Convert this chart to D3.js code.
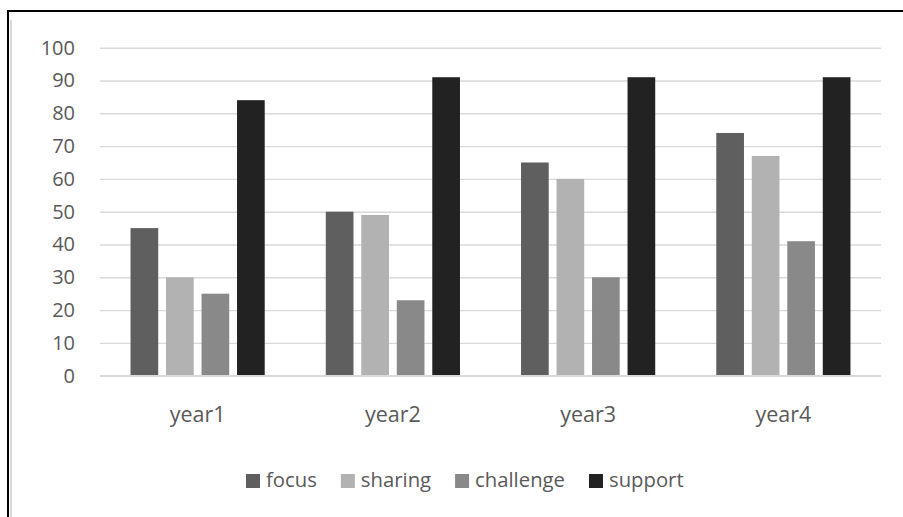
<!DOCTYPE html>
<html>
<head>
<meta charset="utf-8">
<script src="https://cdn.jsdelivr.net/npm/d3@7"></script>
<style>
  html, body { margin: 0; padding: 0; background: #fff; }
  svg { display: block; }
  text { font-family: "Open Sans", sans-serif; fill: #595959; }
</style>
</head>
<body>
<svg id="chart" width="903" height="517"></svg>
<script>
const categories = ["year1", "year2", "year3", "year4"];
const seriesNames = ["focus", "sharing", "challenge", "support"];
const focus = [45, 50, 65, 74];
const sharing = [30, 49, 60, 67];
const challenge = [25, 23, 30, 41];
const support = [84, 91, 91, 91];
const yTicks = [0, 10, 20, 30, 40, 50, 60, 70, 80, 90, 100];
const colors = ["#5f5f5f", "#b2b2b2", "#898989", "#222222"];

const seriesValues = [focus, sharing, challenge, support];

const svg = d3.select("#chart");
const W = 903, H = 517;
svg.append("rect").attr("width", W).attr("height", H).attr("fill", "#fff");

// frame (cropped chart border)
svg.append("rect").attr("x", 10).attr("y", 20).attr("width", 2).attr("height", H - 20).attr("fill", "#d9d9d9");
svg.append("line").attr("x1", 8).attr("x2", W).attr("y1", 11).attr("y2", 11).attr("stroke", "#000").attr("stroke-width", 2);
svg.append("line").attr("x1", 8).attr("x2", 8).attr("y1", 10).attr("y2", H).attr("stroke", "#000").attr("stroke-width", 2);

const x0 = d3.scaleBand().domain(categories).range([100, 881]).paddingInner(0).paddingOuter(0);
const x1 = d3.scaleBand().domain(seriesNames).range([0, x0.bandwidth()]).paddingInner(0.22).paddingOuter(0.86);
const y = d3.scaleLinear().domain([0, 100]).range([375.7, 47.7]);

// gridlines
const yAxis = d3.axisLeft(y).tickValues(yTicks).tickSize(-(881 - 100)).tickPadding(25).tickFormat(d3.format("d"));
const gAxis = svg.append("g").attr("transform", "translate(100,0)").call(yAxis);
gAxis.select(".domain").remove();
gAxis.selectAll(".tick line").attr("stroke", "#d9d9d9").attr("stroke-width", 1.4);
gAxis.selectAll(".tick text").attr("font-size", 20).attr("fill", "#595959")
  .attr("font-family", "Open Sans, sans-serif").attr("x", -25);

// bars
const groups = svg.append("g").selectAll("g").data(categories).join("g")
  .attr("transform", d => `translate(${x0(d)},0)`);
groups.selectAll("rect")
  .data((c, ci) => seriesNames.map((s, si) => ({ s, v: seriesValues[si][ci], si })))
  .join("rect")
  .attr("x", d => x1(d.s))
  .attr("y", d => y(d.v))
  .attr("width", x1.bandwidth())
  .attr("height", d => y(0) - y(d.v))
  .attr("fill", d => colors[d.si]);

// baseline
svg.append("line").attr("x1", 100).attr("x2", 881).attr("y1", y(0)).attr("y2", y(0))
  .attr("stroke", "#d9d9d9").attr("stroke-width", 1.4);

// category labels
const xAxis = d3.axisBottom(x0).tickSize(0).tickPadding(0);
const gx = svg.append("g").attr("transform", "translate(0,0)").call(xAxis);
gx.select(".domain").remove();
gx.selectAll(".tick text").attr("font-size", 21.5).attr("fill", "#595959")
  .attr("font-family", "Open Sans, sans-serif").attr("y", 422).attr("dy", 0);

// legend
const legend = svg.append("g");
let lx = 246;
seriesNames.forEach((s, i) => {
  legend.append("rect").attr("x", lx).attr("y", 474).attr("width", 14).attr("height", 14).attr("fill", colors[i]);
  const t = legend.append("text").attr("x", lx + 20).attr("y", 487).attr("font-size", 20.3).text(s);
  const w = t.node().getComputedTextLength();
  lx = lx + 20 + w + 24;
});
</script>
</body>
</html>
